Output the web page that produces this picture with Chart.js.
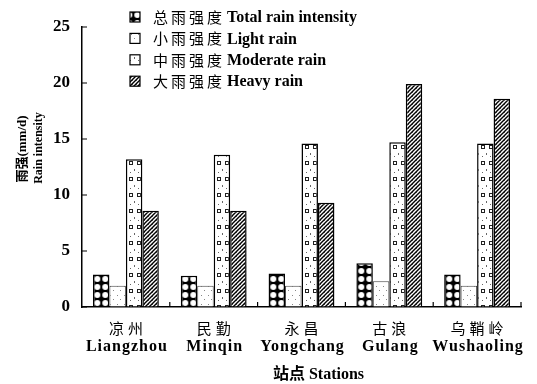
<!DOCTYPE html>
<html>
<head>
<meta charset="utf-8">
<script src="https://cdn.jsdelivr.net/npm/chart.js@4.4.0/dist/chart.umd.min.js"></script>
<style>
  body { margin: 0; background: #fff; }
  canvas { display: block; }
</style>
</head>
<body>
<canvas id="rainChart" width="537" height="384"></canvas>
<script>
const stationsZh = ['凉州', '民勤', '永昌', '古浪', '乌鞘岭'];
const stationsEn = ['Liangzhou', 'Minqin', 'Yongchang', 'Gulang', 'Wushaoling'];
const totalRain = [2.9, 2.8, 3.0, 3.9, 2.9];
const lightRain = [1.9, 1.9, 1.9, 2.3, 1.9];
const moderateRain = [13.2, 13.6, 14.6, 14.7, 14.6];
const heavyRain = [8.6, 8.6, 9.3, 19.9, 18.6];
const yTicks = [0, 5, 10, 15, 20, 25];
const seriesZh = ['总雨强度', '小雨强度', '中雨强度', '大雨强度'];
const seriesEn = ['Total rain intensity', 'Light rain', 'Moderate rain', 'Heavy rain'];

// small tiles used as bar fills
function makePattern(w, h, draw) {
  const c = document.createElement('canvas');
  c.width = w;
  c.height = h;
  const g = c.getContext('2d');
  g.fillStyle = '#fff';
  g.fillRect(0, 0, w, h);
  draw(g);
  return g.createPattern(c, 'repeat');
}

const dotsPattern = makePattern(8, 8, (g) => {
  g.fillStyle = '#000';
  g.fillRect(0, 0, 8, 8);
  g.fillStyle = '#fff';
  g.beginPath();
  g.arc(4, 4, 3, 0, Math.PI * 2);
  g.fill();
});

const sparsePattern = makePattern(7, 9, (g) => {
  g.fillStyle = '#888';
  g.fillRect(1, 2, 1, 1);
  g.fillRect(5, 7, 1, 1);
});

const squaresPattern = makePattern(8, 16, (g) => {
  g.strokeStyle = '#222';
  g.lineWidth = 1;
  g.strokeRect(1.5, 1.5, 3, 3);
  g.fillStyle = '#666';
  g.fillRect(6, 9, 1, 2);
  g.fillRect(2, 12, 1, 1);
});

const hatchPattern = makePattern(4, 4, (g) => {
  g.strokeStyle = '#000';
  g.lineWidth = 1.4;
  g.beginPath();
  g.moveTo(0, 4); g.lineTo(4, 0);
  g.moveTo(-1, 1); g.lineTo(1, -1);
  g.moveTo(3, 5); g.lineTo(5, 3);
  g.stroke();
  g.fillStyle = '#444';
  g.fillRect(0, 0, 1, 1);
});

const fills = [dotsPattern, sparsePattern, squaresPattern, hatchPattern];
const edges = ['#000', '#444', '#000', '#000'];
const edgeWidths = [1.5, 1, 1.5, 1.5];
const seriesData = [totalRain, lightRain, moderateRain, heavyRain];

const decorations = {
  id: 'decorations',
  beforeDatasetsDraw(chart) {
    // line the circles up with the first bar of the total series
    const bar = chart.getDatasetMeta(0).data[0];
    const left = bar.x - bar.width / 2;
    dotsPattern.setTransform(new DOMMatrix().translate(left + 0.3, chart.chartArea.bottom));
  },
  afterDraw(chart) {
    const { ctx, chartArea, scales: { x, y } } = chart;
    ctx.save();
    ctx.strokeStyle = '#000';
    ctx.lineWidth = 1.2;
    ctx.beginPath();
    y.ticks.forEach((t) => {
      const py = y.getPixelForValue(t.value);
      ctx.moveTo(chartArea.left, py);
      ctx.lineTo(chartArea.left + 5, py);
    });
    for (let i = 1; i <= stationsEn.length; i++) {
      const px = x.getPixelForValue(i - 0.5);
      ctx.moveTo(px, chartArea.bottom);
      ctx.lineTo(px, chartArea.bottom - 5);
    }
    ctx.stroke();

    // station names, Chinese above English
    ctx.fillStyle = '#000';
    ctx.textAlign = 'center';
    ctx.textBaseline = 'middle';
    stationsEn.forEach((en, i) => {
      const px = x.getPixelForTick(i);
      ctx.font = "15px 'Noto Sans CJK SC'";
      ctx.letterSpacing = '4px';
      ctx.fillText(stationsZh[i], px + 2, chartArea.bottom + 21);
      ctx.letterSpacing = '1px';
      ctx.font = "bold 16px 'Liberation Serif'";
      ctx.fillText(en, px + 1, chartArea.bottom + 40);
    });
    ctx.letterSpacing = '0px';

    // axis titles
    ctx.font = "bold 16px 'Liberation Serif', 'Noto Sans CJK SC'";
    ctx.fillText('站点 Stations', (chartArea.left + chartArea.right) / 2 + 17, 375);

    ctx.save();
    ctx.translate(23, 149);
    ctx.rotate(-Math.PI / 2);
    ctx.font = "bold 13px 'Liberation Serif', 'Noto Sans CJK SC'";
    ctx.fillText('雨强(mm/d)', 0, 0);
    ctx.restore();
    ctx.save();
    ctx.translate(39, 148);
    ctx.rotate(-Math.PI / 2);
    ctx.font = "bold 12px 'Liberation Serif'";
    ctx.fillText('Rain intensity', 0, 0);
    ctx.restore();

    // legend inside the plot
    ctx.textAlign = 'left';
    chart.data.datasets.forEach((ds, i) => {
      const cy = 17 + i * 21.4;
      ctx.fillStyle = ds.backgroundColor;
      ctx.fillRect(130, cy - 5, 10, 10);
      ctx.strokeStyle = '#000';
      ctx.lineWidth = 1.2;
      ctx.strokeRect(130, cy - 5, 10, 10);
      ctx.fillStyle = '#000';
      ctx.font = "15px 'Noto Sans CJK SC'";
      ctx.letterSpacing = '3px';
      ctx.fillText(seriesZh[i], 153, cy);
      ctx.letterSpacing = '0px';
      ctx.font = "bold 16px 'Liberation Serif'";
      ctx.fillText(seriesEn[i], 227, cy + 1);
    });
    ctx.restore();
  }
};

new Chart(document.getElementById('rainChart'), {
  type: 'bar',
  data: {
    labels: stationsEn,
    datasets: seriesData.map((d, i) => ({
      label: seriesZh[i] + ' ' + seriesEn[i],
      data: d,
      backgroundColor: fills[i],
      borderColor: edges[i],
      borderWidth: edgeWidths[i],
      borderSkipped: 'bottom'
    }))
  },
  options: {
    responsive: false,
    animation: false,
    layout: { padding: { top: 27, right: 16, left: 0, bottom: 0 } },
    datasets: { bar: { categoryPercentage: 0.75, barPercentage: 1.0 } },
    plugins: { legend: { display: false }, tooltip: { enabled: false } },
    scales: {
      x: {
        ticks: { display: false },
        grid: { drawOnChartArea: false, drawTicks: false },
        border: { color: '#000', width: 1.5 },
        afterFit: (s) => { s.height = 77; }
      },
      y: {
        min: 0,
        max: 25,
        afterBuildTicks: (s) => { s.ticks = yTicks.map((v) => ({ value: v })); },
        ticks: {
          color: '#000',
          padding: 12,
          font: { family: 'Liberation Serif', size: 17, weight: 'bold' }
        },
        grid: { drawOnChartArea: false, drawTicks: false },
        border: { color: '#000', width: 1.5 },
        afterFit: (s) => { s.width = 82; }
      }
    }
  },
  plugins: [decorations]
});
</script>
</body>
</html>
